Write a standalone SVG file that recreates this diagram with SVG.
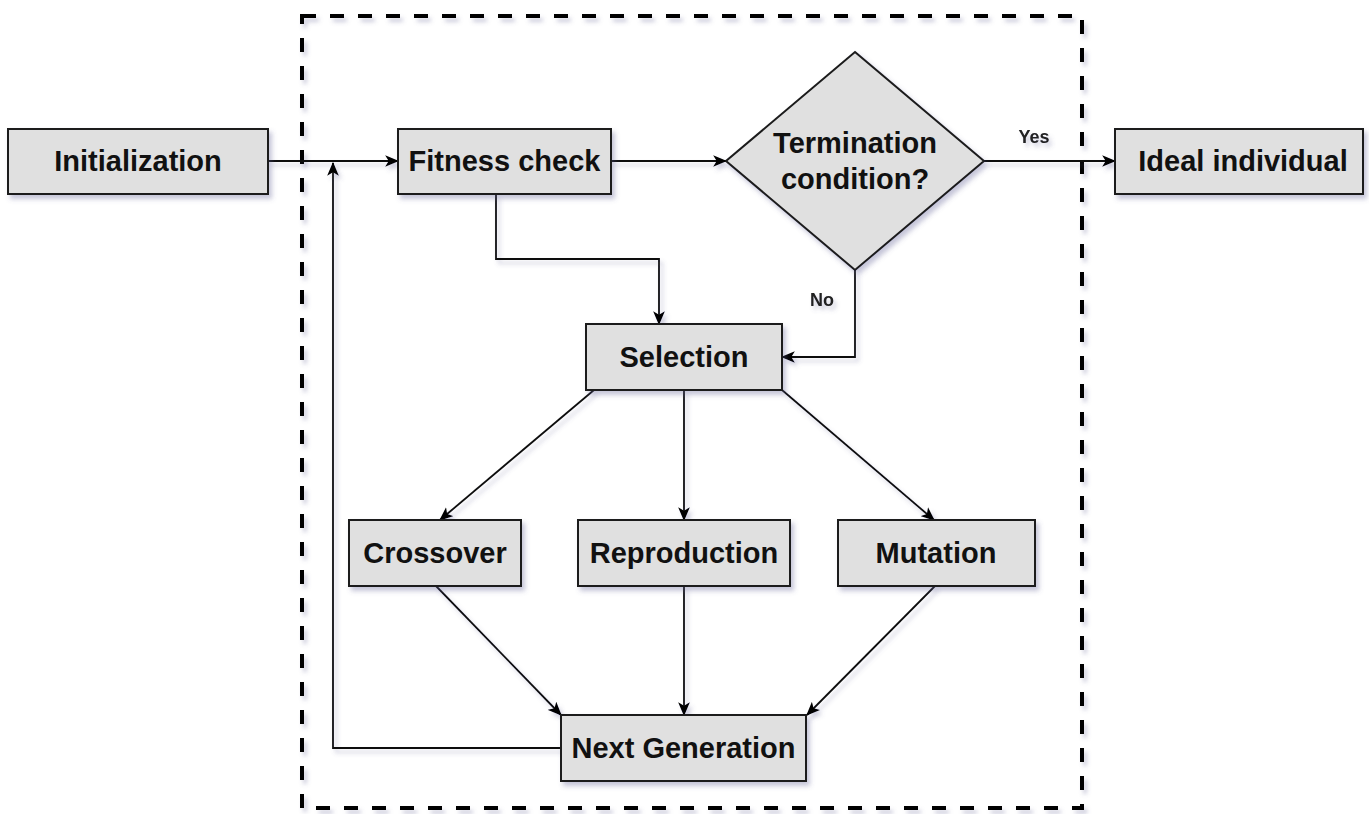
<svg xmlns="http://www.w3.org/2000/svg" width="1369" height="814" viewBox="0 0 1369 814">
<defs>
  <filter id="sh" x="-10%" y="-10%" width="130%" height="140%">
    <feDropShadow dx="3" dy="4" stdDeviation="2.5" flood-color="#5a5a90" flood-opacity="0.35"/>
  </filter>
  <filter id="shl" filterUnits="userSpaceOnUse" x="0" y="0" width="1369" height="814">
    <feDropShadow dx="3" dy="4" stdDeviation="2" flood-color="#5a5a90" flood-opacity="0.3"/>
  </filter>
  <marker id="arr" viewBox="0 0 12 10" refX="11" refY="5" markerWidth="14" markerHeight="12" markerUnits="userSpaceOnUse" orient="auto">
    <path d="M0,0 L12,5 L0,10 L3,5 Z" fill="#000"/>
  </marker>
  <style>
    .box{fill:#e0e0e0;stroke:#1a1a1a;stroke-width:2;filter:url(#sh)}
    .lbl{font-family:"Liberation Sans",Arial,sans-serif;font-weight:bold;font-size:29px;fill:#111;text-anchor:middle}
    .small{font-family:"Liberation Sans",Arial,sans-serif;font-weight:bold;font-size:18px;fill:#222;text-anchor:middle}
    .ln{fill:none;stroke:#111;stroke-width:1.8}
    .arrow{marker-end:url(#arr)}
  </style>
</defs>
<rect width="1369" height="814" fill="#fff"/>
<g id="boundary">
  <rect x="302" y="16" width="780" height="792" fill="none" stroke="#000" stroke-width="4" stroke-dasharray="14 14" filter="url(#shl)"/>
</g>
<g id="connectors" filter="url(#shl)">
  <path class="ln arrow" d="M268,161 L398,161"/>
  <path class="ln arrow" d="M561,748 L333,748 L333,163"/>
  <path class="ln arrow" d="M611,161 L726,161"/>
  <path class="ln arrow" d="M496,194 L496,259 L659,259 L659,324"/>
  <path class="ln arrow" d="M855,270 L855,357 L782,357"/>
  <path class="ln arrow" d="M984,161 L1115,161"/>
  <path class="ln arrow" d="M594,390 L440,520"/>
  <path class="ln arrow" d="M684,390 L684,520"/>
  <path class="ln arrow" d="M782,390 L934,520"/>
  <path class="ln arrow" d="M436,586 L561,715"/>
  <path class="ln arrow" d="M684,586 L684,715"/>
  <path class="ln arrow" d="M935,586 L807,715"/>
  <text class="small" x="1034" y="143">Yes</text>
  <text class="small" x="822" y="306">No</text>
</g>
<g id="initialization">
  <rect class="box" x="8" y="129" width="260" height="65"/>
  <text class="lbl" x="138" y="171">Initialization</text>
</g>
<g id="fitness">
  <rect class="box" x="398" y="129" width="213" height="65"/>
  <text class="lbl" x="504.5" y="171">Fitness check</text>
</g>
<g id="termination">
  <path class="box" d="M855,52 L984,161 L855,270 L726,161 Z"/>
  <text class="lbl" x="855" y="153">Termination</text>
  <text class="lbl" x="855" y="189">condition?</text>
</g>
<g id="ideal">
  <rect class="box" x="1115" y="129" width="248" height="65"/>
  <text class="lbl" x="1243" y="171">Ideal individual</text>
</g>
<g id="selection">
  <rect class="box" x="586" y="324" width="196" height="66"/>
  <text class="lbl" x="684" y="367">Selection</text>
</g>
<g id="crossover">
  <rect class="box" x="349" y="520" width="172" height="66"/>
  <text class="lbl" x="435" y="563">Crossover</text>
</g>
<g id="reproduction">
  <rect class="box" x="578" y="520" width="212" height="66"/>
  <text class="lbl" x="684" y="563">Reproduction</text>
</g>
<g id="mutation">
  <rect class="box" x="838" y="520" width="197" height="66"/>
  <text class="lbl" x="936" y="563">Mutation</text>
</g>
<g id="nextgen">
  <rect class="box" x="561" y="715" width="245" height="66"/>
  <text class="lbl" x="683.5" y="758">Next Generation</text>
</g>
</svg>
